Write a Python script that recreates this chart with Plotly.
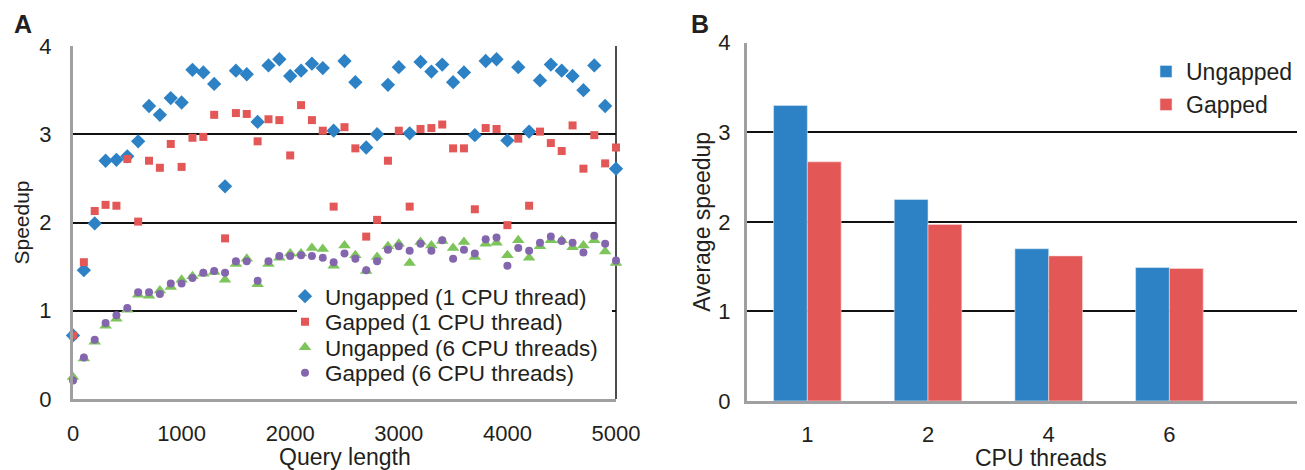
import plotly.graph_objects as go

# ---------------- data ----------------
query_length = list(range(0, 5001, 100))

ungapped_1cpu = [0.72, 1.46, 1.99, 2.70, 2.71, 2.75, 2.92, 3.32, 3.22, 3.41,
                 3.36, 3.73, 3.70, 3.57, 2.41, 3.72, 3.68, 3.14, 3.78, 3.85,
                 3.66, 3.72, 3.80, 3.75, 3.04, 3.83, 3.59, 2.85, 3.00, 3.56,
                 3.76, 3.01, 3.82, 3.71, 3.79, 3.59, 3.70, 2.99, 3.83, 3.85,
                 2.93, 3.76, 3.03, 3.61, 3.79, 3.72, 3.66, 3.50, 3.78, 3.32,
                 2.61]
gapped_1cpu = [0.72, 1.55, 2.13, 2.20, 2.19, 2.72, 2.01, 2.70, 2.62, 2.89,
               2.63, 2.96, 2.97, 3.22, 1.82, 3.24, 3.23, 2.92, 3.17, 3.16,
               2.76, 3.33, 3.16, 3.04, 2.18, 3.08, 2.84, 1.84, 2.03, 2.70,
               3.04, 2.18, 3.06, 3.07, 3.11, 2.84, 2.84, 2.15, 3.07, 3.06,
               1.97, 2.95, 2.19, 3.03, 2.90, 2.81, 3.10, 2.61, 2.99, 2.67,
               2.85]
ungapped_6cpu = [0.25, 0.46, 0.65, 0.83, 0.91, 1.01, 1.18, 1.17, 1.23, 1.27,
                 1.35, 1.39, 1.42, 1.44, 1.35, 1.53, 1.59, 1.30, 1.53, 1.60,
                 1.65, 1.65, 1.71, 1.70, 1.51, 1.74, 1.63, 1.45, 1.61, 1.73,
                 1.76, 1.54, 1.78, 1.74, 1.79, 1.71, 1.78, 1.61, 1.76, 1.77,
                 1.63, 1.80, 1.60, 1.73, 1.80, 1.80, 1.72, 1.74, 1.80, 1.67,
                 1.54]
gapped_6cpu = [0.21, 0.47, 0.67, 0.86, 0.95, 1.03, 1.21, 1.21, 1.19, 1.31,
               1.31, 1.37, 1.43, 1.45, 1.43, 1.56, 1.56, 1.34, 1.56, 1.62,
               1.62, 1.63, 1.62, 1.60, 1.55, 1.65, 1.59, 1.46, 1.56, 1.69,
               1.73, 1.68, 1.76, 1.68, 1.80, 1.59, 1.69, 1.65, 1.81, 1.83,
               1.51, 1.71, 1.68, 1.77, 1.84, 1.79, 1.77, 1.66, 1.85, 1.76,
               1.57]

cpu_threads = ["1", "2", "4", "6"]
avg_ungapped = [3.30, 2.25, 1.70, 1.49]
avg_gapped = [2.67, 1.97, 1.62, 1.48]

x_ticks_a = [0, 1000, 2000, 3000, 4000, 5000]
y_ticks = [0, 1, 2, 3, 4]

# ---------------- style ----------------
BLUE = "#2C82C5"
RED = "#E35757"
GREEN = "#7DC45B"
PURPLE = "#8466AE"
TXT = "#231F20"
FONT = "Liberation Sans, Arial, Helvetica, sans-serif"

W, H = 1305, 470
OFF = 8  # page body margin of the html page


def px_x(p):
    return (p - OFF) / W


def px_y(p):
    return (H - (p - OFF)) / H


fig = go.Figure()

legend_rows_a = [297, 322.5, 348, 373.5]
scatter_specs = [
    ("Ungapped (1 CPU thread)", ungapped_1cpu, BLUE, "diamond", 11, "legend"),
    ("Gapped (1 CPU thread)", gapped_1cpu, RED, "square", 8, "legend3"),
    ("Ungapped (6 CPU threads)", ungapped_6cpu, GREEN, "triangle-up", 11, "legend4"),
    ("Gapped (6 CPU threads)", gapped_6cpu, PURPLE, "circle", 8, "legend5"),
]
for name, vals, col, sym, sz, lg in scatter_specs:
    fig.add_trace(go.Scatter(
        x=query_length, y=vals, mode="markers", name=name,
        marker=dict(color=col, symbol=sym, size=sz, line=dict(width=0)),
        cliponaxis=False, xaxis="x", yaxis="y", legend=lg,
    ))

fig.add_trace(go.Bar(x=cpu_threads, y=avg_ungapped, name="Ungapped",
                     marker=dict(color=BLUE, line=dict(color="#DDEBF6", width=0.6)),
                     xaxis="x2", yaxis="y2", legend="legend2"))
fig.add_trace(go.Bar(x=cpu_threads, y=avg_gapped, name="Gapped",
                     marker=dict(color=RED, line=dict(color="#F6DADA", width=0.6)),
                     xaxis="x2", yaxis="y2", legend="legend6"))

axis_common = dict(
    showgrid=False, zeroline=False, showline=True, linecolor="#A0A0A2",
    linewidth=3, ticks="", automargin=False,
    tickfont=dict(size=22, color=TXT, family=FONT),
)

LEG_OFF = 22  # legend top to first row centre


def leg_a(row_center):
    return dict(x=px_x(285), y=px_y(row_center - LEG_OFF), xanchor="left",
                yanchor="top", bgcolor="rgba(255,255,255,0)", borderwidth=0,
                font=dict(size=22.5, color=TXT, family=FONT), itemsizing="trace")


def leg_b(row_center):
    return dict(x=px_x(1146), y=px_y(row_center - LEG_OFF), xanchor="left",
                yanchor="top", bgcolor="rgba(255,255,255,0)", borderwidth=0,
                font=dict(size=23, color=TXT, family=FONT))


fig.update_layout(
    width=W, height=H,
    margin=dict(l=0, r=0, t=0, b=0, autoexpand=False),
    paper_bgcolor="white", plot_bgcolor="white",
    font=dict(family=FONT, color=TXT, size=22),
    bargap=0.44, bargroupgap=0.0, barmode="group",
    xaxis=dict(**axis_common, domain=[px_x(73), px_x(616)], range=[0, 5000],
               tickvals=x_ticks_a, ticklabelstandoff=13, anchor="y"),
    yaxis=dict(**{**axis_common, "showgrid": True}, gridcolor="#111111", gridwidth=2,
               domain=[px_y(399), px_y(46)], range=[0, 4], tickvals=y_ticks,
               ticklabelstandoff=14,
               title=dict(text="Speedup", font=dict(size=21), standoff=4),
               anchor="x"),
    xaxis2=dict(**axis_common, domain=[px_x(747), px_x(1313)], type="category",
                range=[-0.5, 4.19], ticklabelstandoff=12, anchor="y2"),
    yaxis2=dict(**{**axis_common, "showgrid": True}, gridcolor="#111111", gridwidth=2,
                domain=[px_y(401), px_y(42.7)], range=[0, 4], tickvals=y_ticks,
                ticklabelstandoff=9,
                title=dict(text="Average speedup", font=dict(size=23), standoff=2),
                anchor="x2"),
    legend=leg_a(legend_rows_a[0]),
    legend3=leg_a(legend_rows_a[1]),
    legend4=leg_a(legend_rows_a[2]),
    legend5=leg_a(legend_rows_a[3]),
    legend2=leg_b(72),
    legend6=leg_b(105),
    annotations=[
        dict(text="<b>A</b>", x=px_x(12), y=px_y(24), xref="paper", yref="paper",
             xanchor="left", yanchor="middle", showarrow=False,
             font=dict(size=25, color=TXT, family=FONT)),
        dict(text="<b>B</b>", x=px_x(689), y=px_y(24), xref="paper", yref="paper",
             xanchor="left", yanchor="middle", showarrow=False,
             font=dict(size=25, color=TXT, family=FONT)),
        dict(text="Query length", x=(px_x(73) + px_x(616)) / 2, y=px_y(457),
             xref="paper", yref="paper", xanchor="center", yanchor="middle",
             showarrow=False, font=dict(size=23, color=TXT, family=FONT)),
        dict(text="CPU threads", x=px_x(1041), y=px_y(458),
             xref="paper", yref="paper", xanchor="center", yanchor="middle",
             showarrow=False, font=dict(size=23, color=TXT, family=FONT)),
    ],
    shapes=[
        # right border of panel A
        dict(type="line", xref="x domain", yref="y domain", x0=1, x1=1, y0=0, y1=1,
             line=dict(color="#111111", width=1.5), layer="below"),
        # white legend background of panel A (hides the gridline behind the legend)
        dict(type="rect", xref="paper", yref="paper",
             x0=px_x(297), x1=px_x(612), y0=px_y(395), y1=px_y(283),
             fillcolor="white", line=dict(width=0), layer="above"),
    ],
    showlegend=True,
)

fig.write_html("out.html")
